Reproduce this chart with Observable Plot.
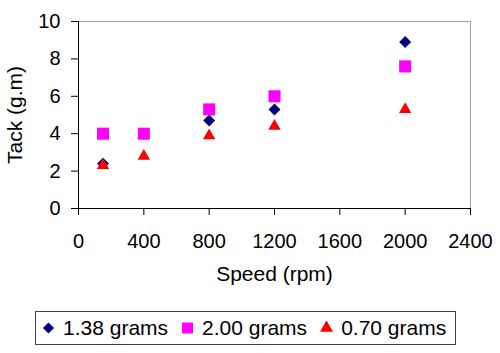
<!DOCTYPE html>
<html>
<head>
<meta charset="utf-8">
<script src="https://cdn.jsdelivr.net/npm/d3@7"></script>
<script src="https://cdn.jsdelivr.net/npm/@observablehq/plot@0.6"></script>
<style>
  html, body { margin: 0; padding: 0; background: #fff; }
  #wrap { position: relative; width: 500px; height: 353px; font-family: "Liberation Sans", Arial, sans-serif; }
  #wrap svg.plot { position: absolute; left: 0; top: 0; }
  .legend { position: absolute; left: 35px; top: 311px; width: 419px; height: 32px; border: 1px solid #404040;
            display: flex; align-items: center; font-size: 21px; color: #000; box-sizing: content-box; }
  .legend .item { display: flex; align-items: center; }
  .legend .sw { display: block; margin-left: 13px; margin-right: 8px; }
  .legend .item:first-child .sw { margin-left: 6px; }
</style>
</head>
<body>
<div id="wrap"></div>
<script>
// ---- data ----
const seriesNames = ["1.38 grams", "2.00 grams", "0.70 grams"];
const seriesColors = ["#000080", "#ff00ff", "#ff0000"];
const seriesSymbols = ["diamond2", "square", "triangle"];

const speed138 = [150, 800, 1200, 2000];
const tack138  = [2.4, 4.7, 5.3, 8.9];

const speed200 = [150, 400, 800, 1200, 2000];
const tack200  = [4.0, 4.0, 5.3, 6.0, 7.6];

const speed070 = [150, 400, 800, 1200, 2000];
const tack070  = [2.3, 2.8, 3.9, 4.4, 5.3];

const xTicks = [0, 400, 800, 1200, 1600, 2000, 2400];
const yTicks = [0, 2, 4, 6, 8, 10];

const rows = (xs, ys) => xs.map((x, i) => ({speed: x, tack: ys[i]}));
const d138 = rows(speed138, tack138);
const d200 = rows(speed200, tack200);
const d070 = rows(speed070, tack070);

const font = "'Liberation Sans', Arial, sans-serif";

const chart = Plot.plot({
  width: 500,
  height: 300,
  marginLeft: 78,
  marginRight: 30,
  marginTop: 21,
  marginBottom: 92,
  style: {fontFamily: font, fontSize: "20px", color: "#000", background: "transparent", overflow: "visible"},
  x: {domain: [0, 2400]},
  y: {domain: [0, 10]},
  marks: [
    Plot.frame({stroke: "#a0a0a0"}),
    Plot.axisX({ticks: xTicks, tickFormat: d3.format("d"), tickSize: 7, tickPadding: 18,
                label: null, fontSize: 20, stroke: "#000"}),
    Plot.axisX({ticks: [], label: "Speed (rpm)", labelAnchor: "center", labelOffset: 72, labelArrow: false,
                fontSize: 21}),
    Plot.axisY({ticks: yTicks, tickFormat: d3.format("d"), tickSize: 7, tickPadding: 11,
                label: null, fontSize: 20, stroke: "#000"}),
    Plot.axisY({ticks: [], label: "Tack (g.m)", labelAnchor: "center", labelOffset: 71, labelArrow: false,
                fontSize: 21}),
    Plot.ruleX([0], {stroke: "#000"}),
    Plot.ruleY([0], {stroke: "#000"}),
    Plot.dot(d138, {x: "speed", y: "tack", symbol: () => seriesSymbols[0], fill: seriesColors[0], r: 5.4}),
    Plot.dot(d200, {x: "speed", y: "tack", symbol: () => seriesSymbols[1], fill: seriesColors[1], r: 6.8}),
    Plot.dot(d070, {x: "speed", y: "tack", symbol: () => seriesSymbols[2], fill: seriesColors[2], r: 4.6})
  ]
});
chart.classList.add("plot");
const wrap = document.getElementById("wrap");
wrap.appendChild(chart);

// ---- legend ----
const symMap = {diamond2: d3.symbolDiamond2, square: d3.symbolSquare, triangle: d3.symbolTriangle};
const symSize = {diamond2: 80, square: 120, triangle: 75};
const legend = d3.select(wrap).append("div").attr("class", "legend");
seriesNames.forEach((name, i) => {
  const item = legend.append("div").attr("class", "item");
  const sw = item.append("svg").attr("class", "sw").attr("width", 13).attr("height", 14);
  sw.append("path")
    .attr("transform", "translate(6.5,7)")
    .attr("d", d3.symbol(symMap[seriesSymbols[i]], symSize[seriesSymbols[i]])())
    .attr("fill", seriesColors[i]);
  item.append("span").text(name);
});
</script>
</body>
</html>
